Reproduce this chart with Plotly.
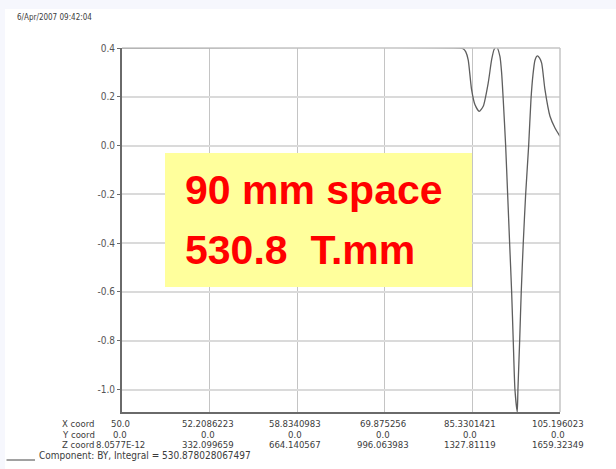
import plotly.graph_objects as go

# ---- data ----
z_mm = [0, 1280, 1292.5, 1302, 1311.5, 1324.4, 1336.9, 1353.2, 1368.4, 1387.4,
        1400.3, 1410, 1419.2, 1431.7, 1438.2, 1444.3, 1453.4, 1461.0, 1468.5, 1476.1,
        1482.2, 1488.6, 1497.4, 1500.0, 1506.5, 1512.5, 1520.1, 1529.2, 1540.6, 1549.3,
        1556.9, 1564.5, 1573.2, 1581.6, 1589.9, 1602.4, 1621.4, 1640.3, 1659.3]
by_T = [0.4, 0.4, 0.397, 0.385, 0.351, 0.229, 0.168, 0.140, 0.161, 0.257,
        0.352, 0.395, 0.404, 0.366, 0.298, 0.188, 0.0, -0.2, -0.4, -0.6,
        -0.8, -1.0, -1.092, -1.0, -0.8, -0.6, -0.4, -0.2, 0.0, 0.188,
        0.29, 0.35, 0.368, 0.36, 0.338, 0.229, 0.12, 0.072, 0.038]

x_coord_labels = ["50.0", "52.2086223", "58.8340983", "69.875256", "85.3301421", "105.196023"]
y_coord_labels = ["0.0", "0.0", "0.0", "0.0", "0.0", "0.0"]
z_coord_labels = ["8.0577E-12", "332.099659", "664.140567", "996.063983", "1327.81119", "1659.32349"]
z_ticks = [float(s) for s in z_coord_labels]

y_ticks = [0.4, 0.2, 0.0, -0.2, -0.4, -0.6, -0.8, -1.0]
y_tick_labels = ["0.4", "0.2", "0.0", "-0.2", "-0.4", "-0.6", "-0.8", "-1.0"]

date_text = "6/Apr/2007 09:42:04"
legend_text = "Component: BY, Integral = 530.878028067497"
box_line1 = "90 mm space"
box_line2 = "530.8\u00a0 T.mm"

# ---- layout geometry ----
W, H = 616, 469
ML, MR, MT, MB = 122, 56, 48, 57
PW, PH = W - ML - MR, H - MT - MB


def px_x(px):
    return (px - ML) / PW


def px_y(py):
    return (H - MB - py) / PH


NARROW = "Liberation Sans Narrow, Arial Narrow, DejaVu Sans Condensed, sans-serif"
TXT = "#3c3c3c"
SMALL = 9.5
ROW_Y = [423.5, 434.0, 444.5]
LEGEND_Y = 455.0

fig = go.Figure()
fig.add_trace(go.Scatter(x=z_mm, y=by_T, mode="lines",
                         line=dict(color="#5e5e5e", width=1.3, shape="spline", smoothing=0.6),
                         showlegend=False, hoverinfo="skip"))

annotations = []
rows = [(x_coord_labels, ROW_Y[0]), (y_coord_labels, ROW_Y[1]), (z_coord_labels, ROW_Y[2])]
for labels, py in rows:
    for zt, lab in zip(z_ticks, labels):
        annotations.append(dict(x=zt, xref="x", y=px_y(py), yref="paper",
                                text=lab, showarrow=False, xanchor="center",
                                yanchor="middle", xshift=-2, borderpad=0,
                                font=dict(family=NARROW, size=SMALL, color=TXT)))
for title, py in zip(["X coord", "Y coord", "Z coord"], ROW_Y):
    annotations.append(dict(x=px_x(96), xref="paper", y=px_y(py), yref="paper",
                            text=title, showarrow=False, xanchor="right",
                            yanchor="middle", borderpad=0,
                            font=dict(family=NARROW, size=SMALL, color=TXT)))
annotations.append(dict(x=px_x(38), xref="paper", y=px_y(LEGEND_Y), yref="paper",
                        text=legend_text, showarrow=False, xanchor="left",
                        yanchor="middle", borderpad=0,
                        font=dict(family=NARROW, size=10, color=TXT)))
annotations.append(dict(x=px_x(16), xref="paper", y=px_y(17.3), yref="paper",
                        text=date_text, showarrow=False, xanchor="left",
                        yanchor="middle", borderpad=0,
                        font=dict(family=NARROW, size=8, color=TXT)))
BIG = dict(family="Liberation Sans, Arial, sans-serif", size=41, color="#ff0000")
annotations.append(dict(x=px_x(183), xref="paper", y=px_y(190), yref="paper",
                        text="<b>" + box_line1 + "</b>", showarrow=False, xanchor="left",
                        yanchor="middle", font=BIG))
annotations.append(dict(x=px_x(183), xref="paper", y=px_y(250), yref="paper",
                        text="<b>" + box_line2 + "</b>", showarrow=False, xanchor="left",
                        yanchor="middle", font=BIG))

shapes = [
    # white panel on the lavender page
    dict(type="rect", xref="paper", yref="paper", layer="below",
         x0=px_x(5), x1=px_x(W + 2), y0=px_y(H + 2), y1=px_y(9),
         fillcolor="white", line=dict(width=0)),
    # right and top frame lines
    dict(type="line", xref="paper", yref="paper", x0=1, x1=1, y0=0, y1=1,
         line=dict(color="#c4c4c4", width=1.5)),
    dict(type="line", xref="paper", yref="paper", x0=0, x1=1, y0=1, y1=1,
         line=dict(color="#c4c4c4", width=1.5)),
    # yellow text box
    dict(type="rect", xref="paper", yref="paper", layer="above",
         x0=px_x(165), x1=px_x(472), y0=px_y(287), y1=px_y(153),
         fillcolor="#ffff9c", line=dict(width=0)),
    # legend line sample
    dict(type="line", xref="paper", yref="paper",
         x0=px_x(6.5), x1=px_x(35), y0=px_y(LEGEND_Y + 5), y1=px_y(LEGEND_Y + 5),
         line=dict(color="#444444", width=1)),
]

fig.update_layout(
    width=W, height=H,
    margin=dict(l=ML, r=MR, t=MT, b=MB, pad=0),
    paper_bgcolor="#f6f7fd",
    plot_bgcolor="white",
    showlegend=False,
    annotations=annotations,
    shapes=shapes,
    xaxis=dict(range=[0, z_ticks[-1]], tickvals=z_ticks, showticklabels=False,
               showgrid=True, gridcolor="#c4c4c4", gridwidth=1.2, zeroline=False,
               showline=True, linecolor="#6a6a6a", linewidth=2, ticks=""),
    yaxis=dict(range=[-1.092, 0.4], tickvals=y_ticks, ticktext=y_tick_labels,
               showgrid=True, gridcolor="#dadada", gridwidth=1.6, zeroline=False,
               showline=True, linecolor="#6a6a6a", linewidth=2,
               ticks="outside", ticklen=3, tickcolor="#6a6a6a", tickwidth=1,
               tickfont=dict(family=NARROW, size=10, color="#555555")),
)

fig.write_html("out.html")
